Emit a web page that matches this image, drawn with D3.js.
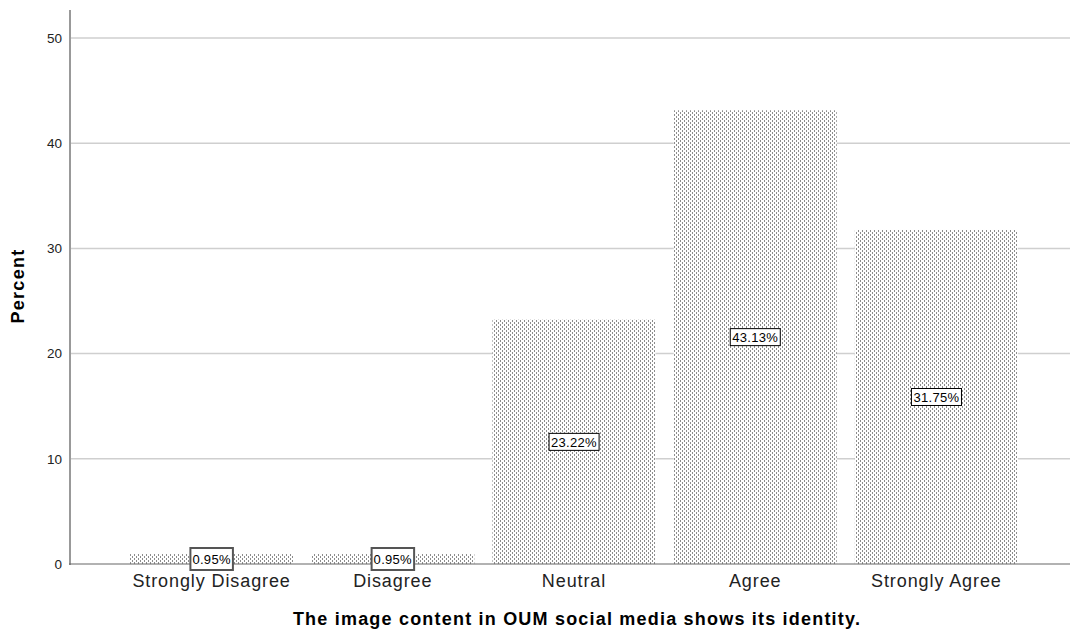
<!DOCTYPE html>
<html>
<head>
<meta charset="utf-8">
<script src="https://cdn.jsdelivr.net/npm/d3@7/dist/d3.min.js"></script>
<style>
  html, body { margin: 0; padding: 0; background: #fff; }
  svg { display: block; font-family: "Liberation Sans", Arial, sans-serif; }
</style>
</head>
<body>
<svg id="chart" width="1071" height="639"></svg>
<script>
// Response categories and their percentages
const categories = ["Strongly Disagree", "Disagree", "Neutral", "Agree", "Strongly Agree"];
const percents = [0.95, 0.95, 23.22, 43.13, 31.75];
const yTicks = [0, 10, 20, 30, 40, 50];
const xTitle = "The image content in OUM social media shows its identity.";
const yTitle = "Percent";

const svg = d3.select("#chart");
const plotLeft = 70, plotRight = 1070, plotTop = 10, plotBottom = 564;

const x = d3.scaleBand()
  .domain(categories)
  .range([121, 1027])
  .paddingInner(0.1)
  .paddingOuter(0.05);

const y = d3.scaleLinear()
  .domain([0, 50])
  .range([plotBottom, 38]);

// Dotted fill used by every bar
const defs = svg.append("defs");
const pat = defs.append("pattern")
  .attr("id", "dots")
  .attr("patternUnits", "userSpaceOnUse")
  .attr("width", 4).attr("height", 4);
pat.append("rect").attr("width", 4).attr("height", 4).attr("fill", "#fff");
pat.append("rect").attr("x", 0).attr("y", 0).attr("width", 1).attr("height", 2).attr("fill", "#8c8c8c");
pat.append("rect").attr("x", 2).attr("y", 2).attr("width", 1).attr("height", 2).attr("fill", "#8c8c8c");

// Horizontal gridlines
svg.append("g")
  .selectAll("line")
  .data(yTicks.filter(d => d > 0))
  .join("line")
  .attr("x1", plotLeft).attr("x2", plotRight)
  .attr("y1", d => y(d)).attr("y2", d => y(d))
  .attr("stroke", "#cfcfcf").attr("stroke-width", 1.5);

// Bars
svg.append("g")
  .selectAll("rect")
  .data(categories.map((c, i) => ({ c, v: percents[i] })))
  .join("rect")
  .attr("x", d => x(d.c))
  .attr("width", x.bandwidth())
  .attr("y", d => y(d.v))
  .attr("height", d => y(0) - y(d.v))
  .attr("fill", "url(#dots)");

// Y axis
const yAxis = d3.axisLeft(y).tickValues(yTicks).tickSize(0).tickPadding(8);
const gy = svg.append("g").attr("transform", `translate(${plotLeft},0)`).call(yAxis);
gy.select(".domain").remove();
gy.selectAll("text").attr("font-size", 13.5).attr("fill", "#222")
  .attr("font-family", "'Liberation Sans', Arial, sans-serif");
svg.append("line")
  .attr("x1", plotLeft).attr("x2", plotLeft)
  .attr("y1", plotTop).attr("y2", plotBottom + 1)
  .attr("stroke", "#999").attr("stroke-width", 2);

// X axis
const xAxis = d3.axisBottom(x).tickSize(0).tickPadding(10);
const gx = svg.append("g").attr("transform", `translate(0,${plotBottom})`).call(xAxis);
gx.select(".domain").remove();
gx.selectAll("text").attr("font-size", 18).attr("fill", "#222")
  .attr("letter-spacing", "0.9px")
  .attr("font-family", "'Liberation Sans', Arial, sans-serif");
svg.append("line")
  .attr("x1", plotLeft - 1).attr("x2", plotRight)
  .attr("y1", plotBottom).attr("y2", plotBottom)
  .attr("stroke", "#666").attr("stroke-width", 1.2);

// Value labels centred at half bar height
const lbl = svg.append("g")
  .selectAll("g")
  .data(categories.map((c, i) => ({ c, v: percents[i] })))
  .join("g")
  .attr("transform", d => `translate(${x(d.c) + x.bandwidth() / 2},${y(d.v / 2)})`);
lbl.each(function (d) {
  const g = d3.select(this);
  const small = (y(0) - y(d.v)) < 20;
  const t = g.append("text")
    .attr("text-anchor", "middle")
    .attr("dy", "0.36em")
    .attr("font-size", 13)
    .attr("letter-spacing", "0.3px")
    .attr("fill", "#000")
    .text(d.v.toFixed(2) + "%");
  const bb = t.node().getBBox();
  const h = small ? 22 : 17;
  g.insert("rect", "text")
    .attr("x", bb.x - 2).attr("y", -h / 2)
    .attr("width", bb.width + 4).attr("height", h)
    .attr("fill", "#fff")
    .attr("stroke", small ? "#555" : "#000")
    .attr("stroke-width", small ? 2 : 1);
  if (small) g.attr("transform", `translate(${x(d.c) + x.bandwidth() / 2},${y(0) - 5})`);
});

// Axis titles
svg.append("text")
  .attr("x", 577).attr("y", 625)
  .attr("text-anchor", "middle")
  .attr("font-size", 18).attr("font-weight", "bold")
  .attr("letter-spacing", "1.2px")
  .attr("fill", "#000")
  .text(xTitle);
svg.append("text")
  .attr("transform", "translate(24,286) rotate(-90)")
  .attr("text-anchor", "middle")
  .attr("font-size", 18).attr("font-weight", "bold")
  .attr("letter-spacing", "1.3px")
  .attr("fill", "#000")
  .text(yTitle);
</script>
</body>
</html>
